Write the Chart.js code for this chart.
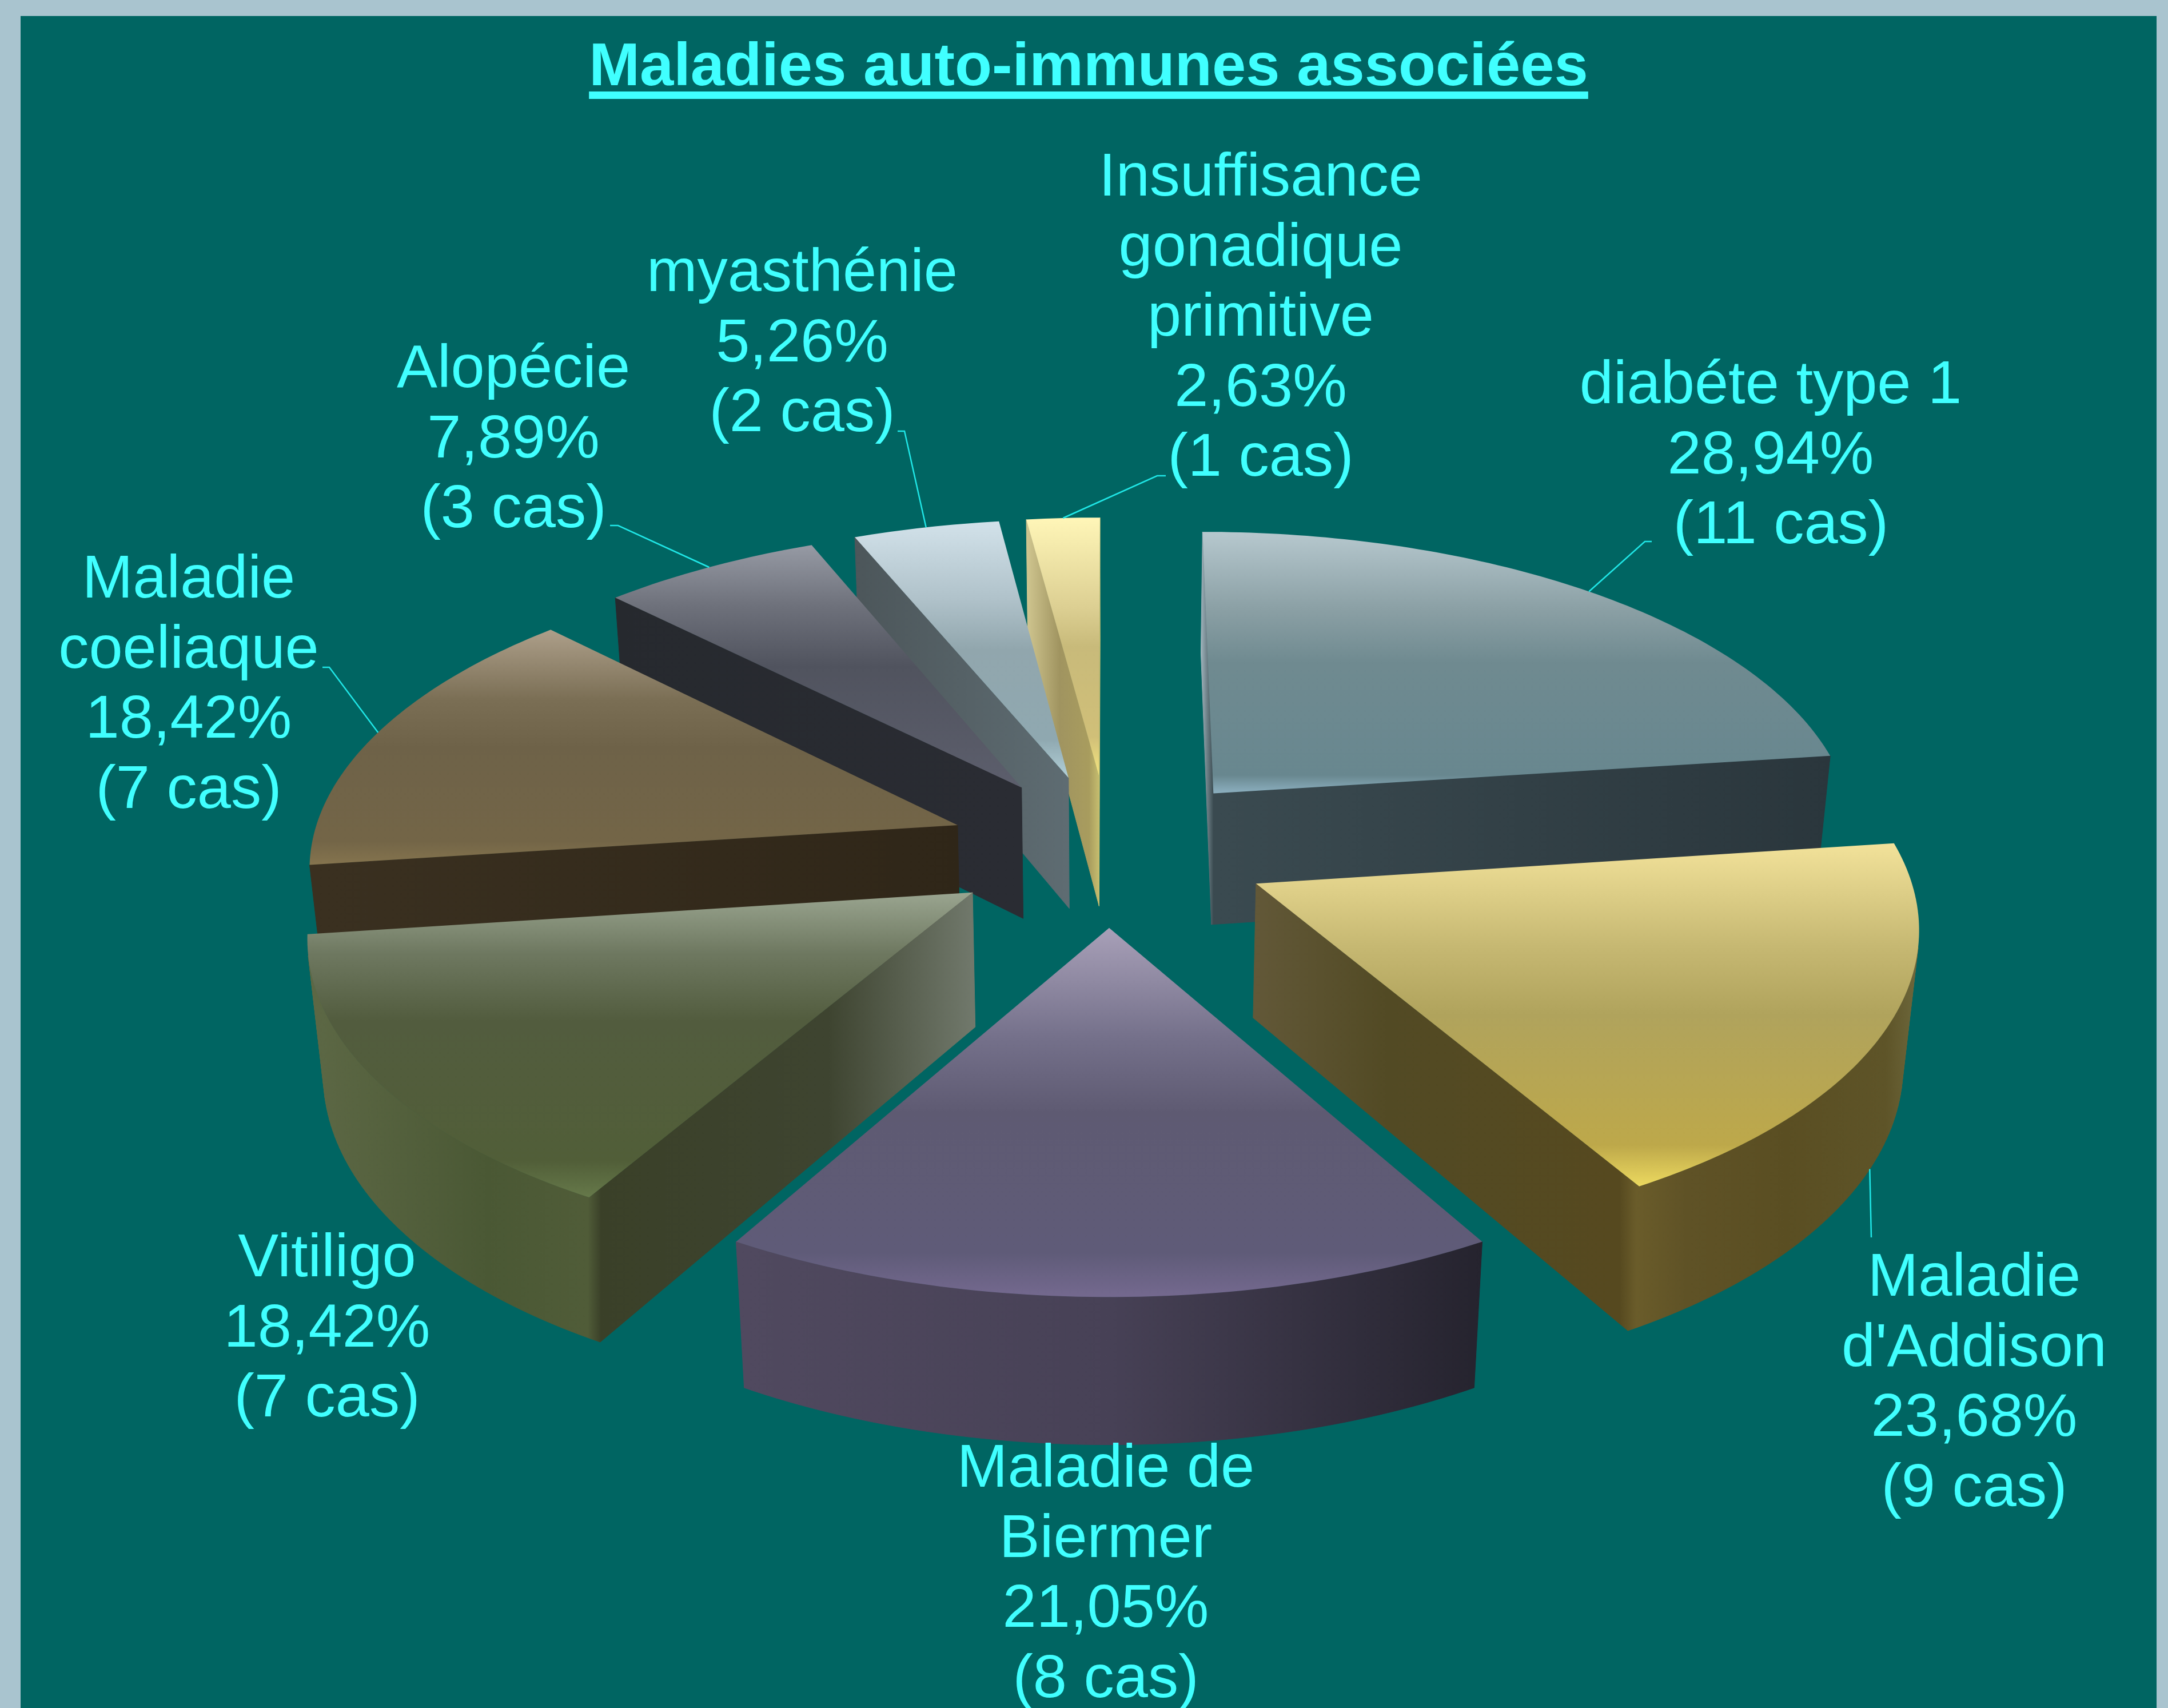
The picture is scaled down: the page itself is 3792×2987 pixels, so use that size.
<!DOCTYPE html>
<html lang="fr">
<head>
<meta charset="utf-8">
<title>Maladies auto-immunes associées</title>
<script src="https://cdn.jsdelivr.net/npm/chart.js@4/dist/chart.umd.min.js"></script>
<style>
  html, body { margin: 0; width: 3792px; height: 2987px; overflow: hidden; background: #a9c4cf; }
  #panel { position: absolute; left: 36px; top: 28px; width: 3736px; height: 2959px; background: #006562; }
  #pieChartCanvas { position: absolute; left: 0; top: 0; }
</style>
</head>
<body>
<div id="panel"></div>
<canvas id="pieChartCanvas" width="3792" height="2987"></canvas>
<script>
const chartTitle = "Maladies auto-immunes associées";

// nombre de cas par maladie, dans le sens horaire depuis midi
const categories = [
  ["diabéte type 1"],
  ["Maladie", "d'Addison"],
  ["Maladie de", "Biermer"],
  ["Vitiligo"],
  ["Maladie", "coeliaque"],
  ["Alopécie"],
  ["myasthénie"],
  ["Insuffisance", "gonadique", "primitive"]
];
const cases = [11, 9, 8, 7, 7, 3, 2, 1];
const percents = ["28,94%", "23,68%", "21,05%", "18,42%", "18,42%", "7,89%", "5,26%", "2,63%"];

// position des étiquettes : centre x, ligne de base de la 1re ligne
const labelAnchors = [
  [3097, 705], [3453, 2266], [1934, 2600], [572, 2232],
  [330, 1045], [898, 677], [1403, 509], [2205, 342]
];
// décalage de la ligne "(n cas)" par rapport au centre
const casShift = [18, 0, 0, 0, 0, 0, 0, 0];
// départ des traits de rappel côté étiquette
const leaderStarts = [
  [[2889, 947], [2877, 947]],
  [[3273, 2164]],
  null,
  null,
  [[564, 1167], [576, 1167]],
  [[1067, 919], [1081, 919]],
  [[1570, 754], [1582, 754]],
  [[2039, 832], [2024, 832]]
];

// dégradés des faces : haut du secteur (vertical) et parois (horizontal)
const topShades = [
  [[0, "#b6c8ce"], [0.3, "#8a9fa4"], [0.5, "#6f8a90"], [0.93, "#68878f"], [1, "#8db0c0"]],
  [[0, "#f2e29a"], [0.3, "#c6b872"], [0.5, "#b0a35c"], [0.88, "#bda84a"], [1, "#ecd95f"]],
  [[0, "#a8a0b8"], [0.3, "#74708a"], [0.5, "#5e5a72"], [0.88, "#5f5b78"], [1, "#74698f"]],
  [[0, "#9aa590"], [0.2, "#6e7860"], [0.42, "#525c3e"], [0.88, "#515e38"], [1, "#66794a"]],
  [[0, "#ad9f8a"], [0.3, "#7a6e54"], [0.5, "#6e6248"], [0.9, "#736547"], [1, "#85744e"]],
  [[0, "#969aa4"], [0.25, "#6e717b"], [0.5, "#50535e"], [1, "#5c5e6c"]],
  [[0, "#d2e2ea"], [0.3, "#b0c2ca"], [0.5, "#91a6ad"], [0.85, "#8fa8b0"], [1, "#b2d0d8"]],
  [[0, "#fff6b8"], [0.35, "#dccf92"], [0.5, "#c8ba7a"], [0.85, "#d0bf78"], [1, "#f5e680"]]
];
const wallShades = [
  [[0, "#9fb4bc"], [0.02, "#3a4a50"], [1, "#2a363c"]],
  [[0, "#625838"], [0.2, "#524a24"], [0.55, "#56491f"], [0.575, "#6a5c2a"], [0.65, "#5f5226"], [0.8, "#5a4e22"], [0.95, "#5e5428"], [1, "#6e683c"]],
  [[0, "#50495f"], [0.5, "#474156"], [1, "#25232e"]],
  [[0, "#5d6845"], [0.27, "#4a5834"], [0.42, "#505c38"], [0.44, "#3a4028"], [0.78, "#3e4430"], [1, "#71796c"]],
  [[0, "#3a3020"], [1, "#2f2618"]],
  [[0, "#26292e"], [1, "#2a2c33"]],
  [[0, "#4c565a"], [1, "#5e6c72"]],
  [[0, "#d0c690"], [0.45, "#a09460"], [0.85, "#a89c5e"], [1, "#c8c070"]]
];

// perspective conique : plan du dessus et plan du dessous, en rayons de secteur
const camera = {
  cx: 1940, horizon: -3008,
  topFocal: 9536, topDist: 8.423, topRise: 3.969,
  baseFocal: 9499, baseDist: 8.556, baseRise: 4.257
};

function project(u, v, base) {
  const s = base ? camera.baseFocal / (camera.baseDist - v) : camera.topFocal / (camera.topDist - v);
  return [camera.cx + u * s, camera.horizon + (base ? camera.baseRise : camera.topRise) * s];
}

function polygon(ctx, pts) {
  ctx.beginPath();
  pts.forEach((p, i) => (i ? ctx.lineTo(p[0], p[1]) : ctx.moveTo(p[0], p[1])));
  ctx.closePath();
}

function polyline(ctx, pts) {
  ctx.beginPath();
  pts.forEach((p, i) => (i ? ctx.lineTo(p[0], p[1]) : ctx.moveTo(p[0], p[1])));
  ctx.stroke();
}

function signedArea(pts) {
  let sum = 0;
  pts.forEach((p, i) => {
    const q = pts[(i + 1) % pts.length];
    sum += p[0] * q[1] - q[0] * p[1];
  });
  return sum;
}

function sliceGeometry(arc, index) {
  const { startAngle, endAngle, outerRadius } = arc.getProps(["startAngle", "endAngle", "outerRadius"], true);
  const mid = (startAngle + endAngle) / 2;
  const shift = arc.options.offset / outerRadius;
  const ou = Math.cos(mid) * shift;
  const ov = Math.sin(mid) * shift;
  const rim = [];
  const steps = Math.max(4, Math.round((endAngle - startAngle) * 60));
  for (let i = 0; i <= steps; i++) {
    const a = startAngle + (endAngle - startAngle) * i / steps;
    rim.push([ou + Math.cos(a), ov + Math.sin(a)]);
  }
  return { index, ou, ov, rim, mid };
}

function drawSlice(ctx, g) {
  const apex = [g.ou, g.ov];
  const loop = [apex, ...g.rim];
  const topPts = loop.map(p => project(p[0], p[1], false));
  const basePts = loop.map(p => project(p[0], p[1], true));
  const xs = [...topPts, ...basePts].map(p => p[0]);
  const ys = topPts.map(p => p[1]);

  const wall = ctx.createLinearGradient(Math.min(...xs), 0, Math.max(...xs), 0);
  wallShades[g.index].forEach(s => wall.addColorStop(s[0], s[1]));
  ctx.fillStyle = wall;
  ctx.strokeStyle = wall;
  ctx.lineWidth = 1;
  loop.forEach((p, i) => {
    const j = (i + 1) % loop.length;
    const quad = [topPts[i], topPts[j], basePts[j], basePts[i]];
    if (signedArea(quad) < 0) {
      polygon(ctx, quad);
      ctx.fill();
      ctx.stroke();
    }
  });

  const face = ctx.createLinearGradient(0, Math.min(...ys), 0, Math.max(...ys));
  topShades[g.index].forEach(s => face.addColorStop(s[0], s[1]));
  ctx.fillStyle = face;
  polygon(ctx, topPts);
  ctx.fill();
}

const pie3d = {
  id: "pie3d",
  beforeDatasetsDraw(chart) {
    const ctx = chart.ctx;
    const slices = chart.getDatasetMeta(0).data.map(sliceGeometry);
    // du fond vers l'avant
    slices.slice().sort((a, b) => a.ov - b.ov).forEach(g => drawSlice(ctx, g));
    return false;
  },
  afterDraw(chart) {
    const ctx = chart.ctx;
    const slices = chart.getDatasetMeta(0).data.map(sliceGeometry);
    ctx.save();

    // soulignement du titre
    const tb = chart.titleBlock;
    ctx.font = "bold 106.6px 'Liberation Sans'";
    const w = ctx.measureText(chartTitle).width;
    ctx.fillStyle = "#40ffff";
    ctx.fillRect((tb.left + tb.right) / 2 - w / 2, 160, w, 13);

    // traits de rappel
    ctx.strokeStyle = "#1fe6e6";
    ctx.lineWidth = 2.5;
    leaderStarts.forEach((start, i) => {
      if (!start) return;
      const g = slices[i];
      const end = project(g.ou + Math.cos(g.mid), g.ov + Math.sin(g.mid), g.ov > 0);
      polyline(ctx, [...start, end]);
    });

    // étiquettes
    ctx.font = "106.4px 'Liberation Sans'";
    ctx.fillStyle = "#40ffff";
    ctx.textAlign = "center";
    ctx.textBaseline = "alphabetic";
    categories.forEach((name, i) => {
      const lines = [...name, percents[i]];
      lines.forEach((line, k) => ctx.fillText(line, labelAnchors[i][0], labelAnchors[i][1] + k * 122.5));
      ctx.fillText("(" + cases[i] + " cas)", labelAnchors[i][0] + casShift[i], labelAnchors[i][1] + lines.length * 122.5);
    });
    ctx.restore();
  }
};

function createPieChart() {
  const ctx = document.getElementById("pieChartCanvas").getContext("2d");

  new Chart(ctx, {
    type: "pie",
    data: {
      labels: categories.map(c => c.join(" ")),
      datasets: [{
        data: cases,
        backgroundColor: topShades.map(s => s[2][1]),
        borderWidth: 0,
        offset: 310,
        hoverOffset: 0
      }]
    },
    options: {
      responsive: false,
      animation: false,
      layout: { padding: { left: 16 } },
      events: [],
      plugins: {
        legend: { display: false },
        tooltip: { enabled: false },
        title: {
          display: true,
          text: chartTitle,
          color: "#40ffff",
          font: { family: "'Liberation Sans'", size: 106.6, weight: "bold" },
          padding: { top: 56, bottom: 10 }
        }
      }
    },
    plugins: [pie3d]
  });
}

createPieChart();
</script>
</body>
</html>
